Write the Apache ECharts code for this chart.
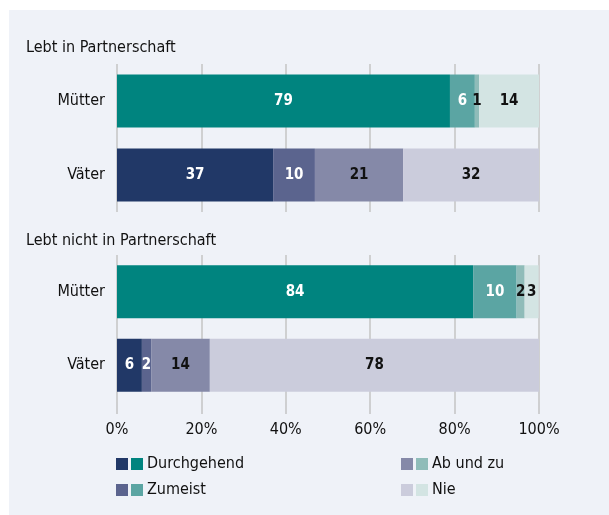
<!DOCTYPE html>
<html>
<head>
    <meta charset="UTF-8">
    <title>Partnerschaft</title>
    <script type="text/javascript" src="https://cdn.jsdelivr.net/npm/echarts@6/dist/echarts.min.js"></script>
    <style type="text/css">
        body { margin: 0; background: #ffffff; }
        #main { width: 609px; height: 515px; }
    </style>
</head>
<body>
<div id="main"></div>
<script>
// Daten
var gruppen = ['Lebt in Partnerschaft', 'Lebt nicht in Partnerschaft'];
var personen = ['Mütter', 'Väter'];
var kategorien = ['Durchgehend', 'Zumeist', 'Ab und zu', 'Nie'];
var xTicks = [0, 20, 40, 60, 80, 100];

// [Mütter, Väter] je Kategorie (Anteile in %)
var partnerDurchgehend = [78.9, 37];
var partnerZumeist     = [5.9, 9.9];
var partnerAbUndZu     = [1.0, 20.9];
var partnerNie         = [14.2, 32.2];

var ohneDurchgehend = [84.4, 5.9];
var ohneZumeist     = [10.3, 2.2];
var ohneAbUndZu     = [1.9, 13.9];
var ohneNie         = [3.3, 78];

var farbenMuetter = ['#00847f', '#5ba5a3', '#8fbcb9', '#d3e4e3'];
var farbenVaeter  = ['#213867', '#5b648e', '#8589a8', '#cbccdc'];
var labelFarben   = ['#ffffff', '#ffffff', '#111111', '#111111'];

var FONT = '"DejaVu Sans Condensed", "Roboto", sans-serif';

var myChart = echarts.init(document.getElementById('main'));

var grids = [
    {left: 117, width: 422, top: 64, height: 148},
    {left: 117, width: 422, top: 255, height: 147}
];

function makeSeries(gridIdx, werte) {
    var out = [];
    for (var k = 0; k < kategorien.length; k++) {
        out.push({
            name: kategorien[k],
            type: 'bar',
            stack: 'g' + gridIdx,
            xAxisIndex: gridIdx,
            yAxisIndex: gridIdx,
            barWidth: 53,
            data: werte[k].map(function (v, i) {
                return {
                    value: v,
                    itemStyle: {color: i === 0 ? farbenMuetter[k] : farbenVaeter[k]}
                };
            }),
            label: {
                show: true,
                position: 'inside',
                color: labelFarben[k],
                fontFamily: FONT,
                fontSize: 15,
                fontWeight: 'bold',
                formatter: function (p) { return Math.round(p.value); }
            },
            emphasis: {disabled: true}
        });
    }
    return out;
}

var series = makeSeries(0, [partnerDurchgehend, partnerZumeist, partnerAbUndZu, partnerNie])
    .concat(makeSeries(1, [ohneDurchgehend, ohneZumeist, ohneAbUndZu, ohneNie]));

var xAxes = grids.map(function (g, i) {
    return {
        gridIndex: i,
        type: 'value',
        min: xTicks[0],
        max: xTicks[xTicks.length - 1],
        interval: xTicks[1] - xTicks[0],
        axisLine: {show: false},
        axisTick: {show: i === 1, length: 12, lineStyle: {color: '#c4c4c4', width: 1.5}},
        axisLabel: {
            show: i === 1,
            margin: 20,
            color: '#111111',
            fontFamily: FONT,
            fontSize: 16,
            formatter: '{value}%'
        },
        splitLine: {show: true, lineStyle: {color: '#c4c4c4', width: 1.5}}
    };
});

var yAxes = grids.map(function (g, i) {
    return {
        gridIndex: i,
        type: 'category',
        inverse: true,
        data: personen,
        axisLine: {show: false},
        axisTick: {show: false},
        axisLabel: {margin: 12, color: '#111111', fontFamily: FONT, fontSize: 16}
    };
});

// Legende
var legendPos = [[116, 464], [116, 490], [401, 464], [401, 490]];
var graphics = [{
    type: 'rect',
    shape: {x: 9, y: 10, width: 600, height: 505},
    style: {fill: '#eff2f8'},
    z: -10
}];
kategorien.forEach(function (name, k) {
    var p = legendPos[k];
    graphics.push({type: 'rect', shape: {x: p[0], y: p[1] - 6, width: 12, height: 12}, style: {fill: farbenVaeter[k]}});
    graphics.push({type: 'rect', shape: {x: p[0] + 15, y: p[1] - 6, width: 12, height: 12}, style: {fill: farbenMuetter[k]}});
    graphics.push({
        type: 'text', x: p[0] + 31, y: p[1],
        style: {text: name, fill: '#111111', font: '16px ' + FONT, textVerticalAlign: 'middle'}
    });
});

myChart.setOption({
    animation: false,
    backgroundColor: '#ffffff',
    title: gruppen.map(function (t, i) {
        return {
            text: t,
            left: 26,
            top: i === 0 ? 40 : 233,
            padding: 0,
            textStyle: {color: '#111111', fontFamily: FONT, fontSize: 16, fontWeight: 'normal'}
        };
    }),
    grid: grids,
    xAxis: xAxes,
    yAxis: yAxes,
    series: series,
    graphic: graphics
});
</script>
</body>
</html>
